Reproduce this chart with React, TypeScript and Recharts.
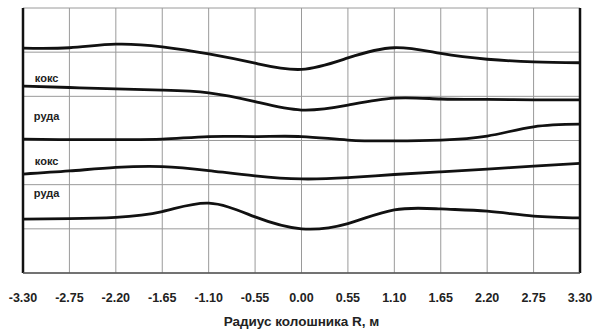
import React from "react";
import {
  ComposedChart,
  Line,
  XAxis,
  YAxis,
  CartesianGrid,
  ReferenceLine,
  Scatter,
  Label,
} from "recharts";

const radius = [-3.3, -2.75, -2.2, -1.65, -1.1, -0.55, 0, 0.55, 1.1, 1.65, 2.2, 2.75, 3.3];
const boundary1 = [5.09, 5.1, 5.18, 5.12, 4.96, 4.75, 4.61, 4.87, 5.1, 4.97, 4.84, 4.78, 4.76];
const boundary2 = [4.23, 4.2, 4.17, 4.14, 4.08, 3.88, 3.69, 3.8, 3.96, 3.94, 3.93, 3.92, 3.92];
const boundary3 = [3.03, 3.02, 3.02, 3.03, 3.09, 3.09, 3.09, 3.01, 2.99, 3.01, 3.1, 3.31, 3.37];
const boundary4 = [2.24, 2.31, 2.39, 2.41, 2.32, 2.2, 2.13, 2.16, 2.23, 2.29, 2.35, 2.42, 2.48];
const boundary5 = [1.22, 1.23, 1.26, 1.39, 1.58, 1.27, 1.0, 1.12, 1.43, 1.45, 1.4, 1.29, 1.25];

const xTicks = [-3.3, -2.75, -2.2, -1.65, -1.1, -0.55, 0, 0.55, 1.1, 1.65, 2.2, 2.75, 3.3];
const yTicks = [0, 1, 2, 3, 4, 5, 6];

const layerNames = ["кокс", "руда", "кокс", "руда"];
const layerLabelX = [-3.02, -3.02, -3.02, -3.02];
const layerLabelY = [4.41, 3.55, 2.54, 1.81];

const data = radius.map((r, i) => ({
  r,
  b1: boundary1[i],
  b2: boundary2[i],
  b3: boundary3[i],
  b4: boundary4[i],
  b5: boundary5[i],
}));

const labelData = layerNames.map((name, i) => ({
  r: layerLabelX[i],
  y: layerLabelY[i],
  name,
}));

const series = ["b1", "b2", "b3", "b4", "b5"];

const LayerText = (props: any) => {
  const { cx, cy, payload } = props;
  return (
    <text
      x={cx}
      y={cy}
      textAnchor="middle"
      dominantBaseline="central"
      fontFamily="Liberation Sans, Arial, sans-serif"
      fontSize={11}
      fontWeight="bold"
      fill="#222"
    >
      {payload.name}
    </text>
  );
};

export default function App() {
  return (
    <div style={{ position: "absolute", left: 0, top: 0, background: "#fff" }}>
      <ComposedChart
        width={593}
        height={336}
        data={data}
        margin={{ top: 8, right: 13, bottom: 23, left: 23 }}
      >
        <CartesianGrid stroke="#9a9a9a" strokeWidth={1} />
        <XAxis
          dataKey="r"
          type="number"
          domain={[-3.3, 3.3]}
          ticks={xTicks}
          tickFormatter={(v: number) => v.toFixed(2)}
          tickLine={false}
          tickSize={0}
          tickMargin={20}
          height={40}
          axisLine={{ stroke: "#555", strokeWidth: 1.5 }}
          tick={{ fill: "#222", fontSize: 12.5, fontWeight: "bold", fontFamily: "Liberation Sans, Arial, sans-serif" }}
          interval={0}
          allowDataOverflow
        >
          <Label
            value="Радиус колошника R, м"
            position="bottom"
            offset={3}
            style={{ fill: "#222", fontSize: 13.5, fontWeight: "bold", fontFamily: "Liberation Sans, Arial, sans-serif" }}
          />
        </XAxis>
        <YAxis hide type="number" domain={[0, 6]} ticks={yTicks} width={0} />
        <ReferenceLine x={-3.3} stroke="#111" strokeWidth={2.5} />
        <ReferenceLine x={3.3} stroke="#111" strokeWidth={2.5} />
        {series.map((k) => (
          <Line
            key={k}
            dataKey={k}
            type="natural"
            stroke="#111"
            strokeWidth={2.8}
            dot={false}
            activeDot={false}
            isAnimationActive={false}
          />
        ))}
        <Scatter
          data={labelData}
          dataKey="y"
          shape={LayerText}
          isAnimationActive={false}
        />
      </ComposedChart>
    </div>
  );
}
